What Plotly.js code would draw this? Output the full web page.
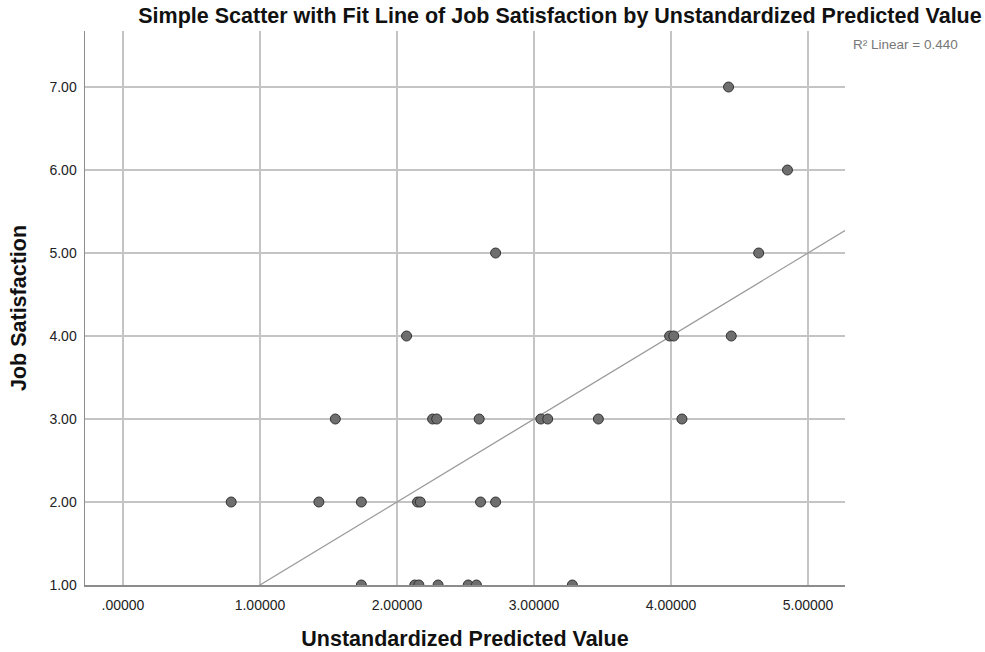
<!DOCTYPE html>
<html>
<head>
<meta charset="utf-8">
<script src="https://cdn.plot.ly/plotly-3.0.1.min.js"></script>
<style>html,body{margin:0;padding:0;background:#fff;}#chart{width:985px;height:652px;}</style>
</head>
<body>
<div id="chart"></div>
<script>
// Unstandardized predicted value (x) and job satisfaction (y)
const predicted = [0.79, 1.43, 1.55, 1.74, 1.74, 2.07, 2.15, 2.17, 2.13, 2.16, 2.26, 2.29, 2.30, 2.52, 2.58, 2.60, 2.61, 2.72, 2.72, 3.05, 3.10, 3.28, 3.47, 3.99, 4.02, 4.08, 4.42, 4.44, 4.64, 4.85];
const satisfaction = [2, 2, 3, 2, 1, 4, 2, 2, 1, 1, 3, 3, 1, 1, 1, 3, 2, 2, 5, 3, 3, 1, 3, 4, 4, 3, 7, 4, 5, 6];
const fitIntercept = 0;
const fitSlope = 1;
const rSquared = 0.440;
const xTickVals = [0, 1, 2, 3, 4, 5];
const xTickText = ['.00000', '1.00000', '2.00000', '3.00000', '4.00000', '5.00000'];
const yTickVals = [1, 2, 3, 4, 5, 6, 7];
const yTickText = ['1.00', '2.00', '3.00', '4.00', '5.00', '6.00', '7.00'];

const xRange = [-0.277, 5.27];
const yRange = [1, 7.675];
const fitX = xRange.slice();
const fitY = fitX.map(v => fitIntercept + fitSlope * v);

const font = 'Liberation Sans, Arial, sans-serif';
const traces = [
  {x: fitX, y: fitY, mode: 'lines', type: 'scatter', line: {color: '#999999', width: 1.2}, hoverinfo: 'skip', showlegend: false},
  {x: predicted, y: satisfaction, mode: 'markers', type: 'scatter',
   marker: {size: 10, color: '#6e6e6e', line: {color: '#333333', width: 1}}, showlegend: false, cliponaxis: true}
];
const layout = {
  width: 985, height: 652,
  margin: {l: 85, r: 140, t: 31, b: 67},
  paper_bgcolor: '#ffffff', plot_bgcolor: '#ffffff',
  font: {family: font, color: '#222222', size: 14},
  title: {text: '<b>Simple Scatter with Fit Line of Job Satisfaction by Unstandardized Predicted Value</b>',
          font: {family: font, size: 21.5, color: '#111111'},
          xref: 'container', x: 560/985, xanchor: 'center', yref: 'container', y: 1 - 15/652, yanchor: 'middle'},
  xaxis: {range: xRange, tickvals: xTickVals, ticktext: xTickText, showgrid: true, gridcolor: '#c4c4c4', gridwidth: 1.2,
          zeroline: false, showline: true, linecolor: '#8c8c8c', linewidth: 1.5, ticks: '', ticklabelstandoff: 7,
          tickfont: {size: 14, color: '#222'},
          title: {text: '<b>Unstandardized Predicted Value</b>', font: {size: 21.5, color: '#111'}, standoff: 18}},
  yaxis: {range: yRange, tickvals: yTickVals, ticktext: yTickText, showgrid: true, gridcolor: '#c4c4c4', gridwidth: 1.2,
          zeroline: false, showline: true, linecolor: '#8c8c8c', linewidth: 1.5, ticks: '', ticklabelstandoff: 4,
          tickfont: {size: 14, color: '#222'},
          title: {text: '<b>Job Satisfaction</b>', font: {size: 21.5, color: '#111'}, standoff: 17}},
  annotations: [{text: 'R² Linear = ' + rSquared.toFixed(3), xref: 'paper', yref: 'paper', x: (851-85)/760, y: (585-44)/554,
                 xanchor: 'left', yanchor: 'middle', showarrow: false, font: {size: 13.5, color: '#777777'}}]
};
Plotly.newPlot('chart', traces, layout, {displayModeBar: false, staticPlot: true});
</script>
</body>
</html>
